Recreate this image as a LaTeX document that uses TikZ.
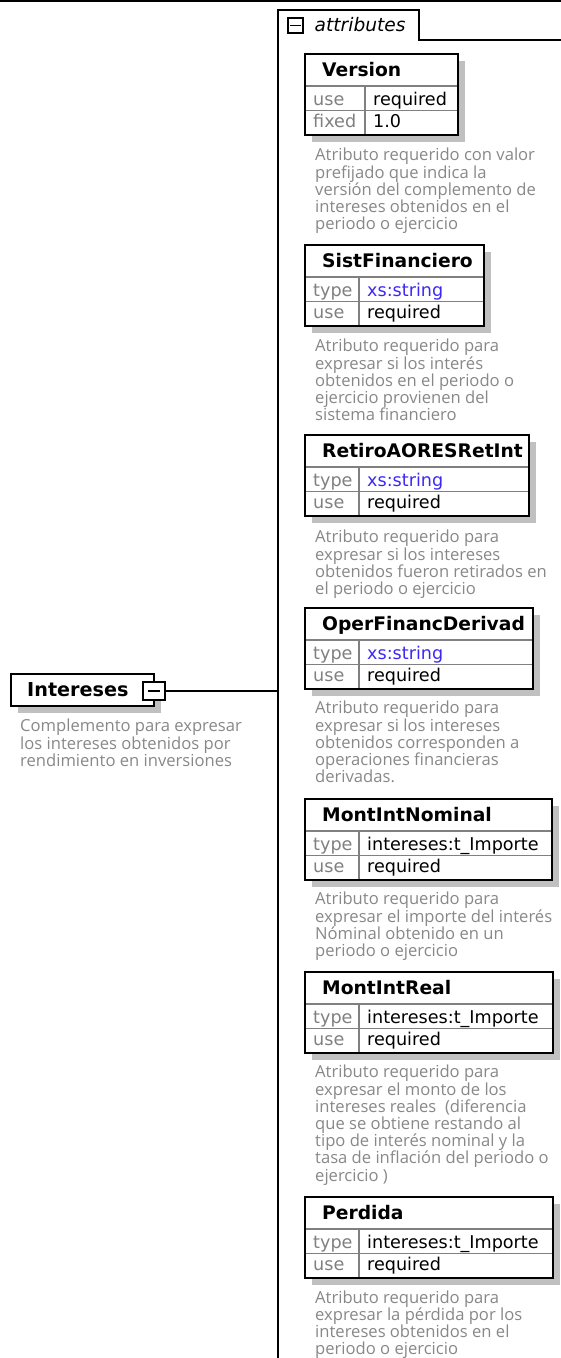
\documentclass[tikz,border=0pt]{standalone}
\usepackage{fontspec}
\setmainfont{DejaVu Sans}
\newfontfamily\dvs{DejaVu Sans}
\newfontfamily\osans{Open Sans}
\definecolor{shadowgray}{RGB}{192,192,192}
\definecolor{divgray}{RGB}{128,128,128}
\definecolor{labelgray}{RGB}{128,128,128}
\definecolor{descgray}{RGB}{136,136,136}
\definecolor{typeblue}{RGB}{60,40,245}
\tikzset{
  boxframe/.style={draw=black, line width=1.8pt, fill=white, anchor=north west, inner sep=0pt, outer sep=0pt},
  shadowbox/.style={fill=shadowgray, draw=none},
  divline/.style={draw=divgray, line width=1.2pt},
  titletext/.style={font=\dvs\bfseries\fontsize{18.7}{20}\selectfont, anchor=base west, inner sep=0pt},
  labeltext/.style={font=\dvs\fontsize{17.6}{19}\selectfont, text=labelgray, anchor=base west, inner sep=0pt},
  valtext/.style={font=\dvs\fontsize{17.6}{19}\selectfont, text=black, anchor=base west, inner sep=0pt},
  desctext/.style={font=\osans\fontsize{16.6}{17.2}\selectfont, text=descgray, align=left, anchor=north west, inner sep=0pt},
  minusbox/.style={draw=black, line width=2pt, fill=white, inner sep=0pt},
  outline/.style={draw=black, line width=1.6pt},
}
% #1 id, #2 top, #3 right, #4 column divider x, #5 title, #6 label1, #7 value1, #8 label2, #9 value2
\newcommand{\attrbox}[9]{%
  \fill[shadowbox] (312,#2+7) rectangle (#3+7,#2+88);
  \node[boxframe, minimum width={#3-305}, minimum height=81] (#1) at (305,#2) {};
  \draw[divline] (305,#2+32) -- (#3,#2+32);
  \draw[divline] (305,#2+56.5) -- (#3,#2+56.5);
  \draw[divline] (#4,#2+32) -- (#4,#2+81);
  \draw[draw=black, line width=1.8pt] (#1.north west) rectangle (#1.south east);
  \node[titletext] (#1-title) at (322,#2+22.8) {#5};
  \node[labeltext] (#1-l1) at (313,#2+51) {#6};
  \node[valtext] (#1-v1) at (#4+8,#2+51) {#7};
  \node[labeltext] (#1-l2) at (313,#2+73.5) {#8};
  \node[valtext] (#1-v2) at (#4+8,#2+73.5) {#9};
}
\begin{document}
\begin{tikzpicture}[x=1pt,y=-1pt]
\useasboundingbox (0,0) rectangle (561,1358);
\fill[white] (0,0) rectangle (561,1358);
% top rule
\draw[line width=2pt] (0,1) -- (561,1);
% attributes container with tab
\draw[outline] (278,1358) -- (278,10) -- (419,10) -- (419,40) -- (561,40);
\node[minusbox, minimum width=15, minimum height=15] (tabminus) at (295.5,25.5) {};
\draw[line width=1.6pt] (290,25.5) -- (301,25.5);
\node[font=\dvs\itshape\fontsize{18.6}{20}\selectfont, anchor=base west, inner sep=0pt] (tablabel) at (314.5,31.5) {attributes};

% attribute boxes
\attrbox{version}{54}{458}{365}{Version}{use}{required}{fixed}{1.0}
\node[desctext] (version-desc) at (315,148) {Atributo requerido con valor\\prefijado que indica la\\versión del complemento de\\intereses obtenidos en el\\periodo o ejercicio};

\attrbox{sist}{245}{484}{359}{SistFinanciero}{type}{\color{typeblue}xs:string}{use}{required}
\node[desctext] (sist-desc) at (315,339) {Atributo requerido para\\expresar si los interés\\obtenidos en el periodo o\\ejercicio provienen del\\sistema financiero};

\attrbox{retiro}{435}{529}{359}{RetiroAORESRetInt}{type}{\color{typeblue}xs:string}{use}{required}
\node[desctext] (retiro-desc) at (315,530) {Atributo requerido para\\expresar si los intereses\\obtenidos fueron retirados en\\el periodo o ejercicio};

\attrbox{oper}{608}{533}{359}{OperFinancDerivad}{type}{\color{typeblue}xs:string}{use}{required}
\node[desctext] (oper-desc) at (315,701) {Atributo requerido para\\expresar si los intereses\\obtenidos corresponden a\\operaciones financieras\\derivadas.};

\attrbox{nominal}{799}{552}{359}{MontIntNominal}{type}{intereses:t\_Importe}{use}{required}
\node[desctext] (nominal-desc) at (315,892) {Atributo requerido para\\expresar el importe del interés\\Nóminal obtenido en un\\periodo o ejercicio};

\attrbox{real}{972}{553}{359}{MontIntReal}{type}{intereses:t\_Importe}{use}{required}
\node[desctext] (real-desc) at (315,1065) {Atributo requerido para\\expresar el monto de los\\intereses reales\ \ (diferencia\\que se obtiene restando al\\tipo de interés nominal y la\\tasa de inflación del periodo o\\ejercicio )};

\attrbox{perdida}{1197}{553}{359}{Perdida}{type}{intereses:t\_Importe}{use}{required}
\node[desctext] (perdida-desc) at (315,1290.5) {Atributo requerido para\\expresar la pérdida por los\\intereses obtenidos en el\\periodo o ejercicio};

% Intereses element
\fill[shadowbox] (18,681) rectangle (161,713);
\node[boxframe, minimum width=143, minimum height=32] (intereses) at (11,674) {};
\node[titletext, font=\dvs\bfseries\fontsize{19.2}{21}\selectfont] (intereses-title) at (27,696.5) {Intereses};
\node[minusbox, minimum width=22, minimum height=18] (intminus) at (154,691) {};
\draw[line width=1.6pt] (148,691) -- (160,691);
\coordinate (join) at (278,691);
\draw[line width=1.6pt] (intminus.east) -- (join);
\node[desctext] (intereses-desc) at (20,719) {Complemento para expresar\\los intereses obtenidos por\\rendimiento en inversiones};
\end{tikzpicture}
\end{document}
